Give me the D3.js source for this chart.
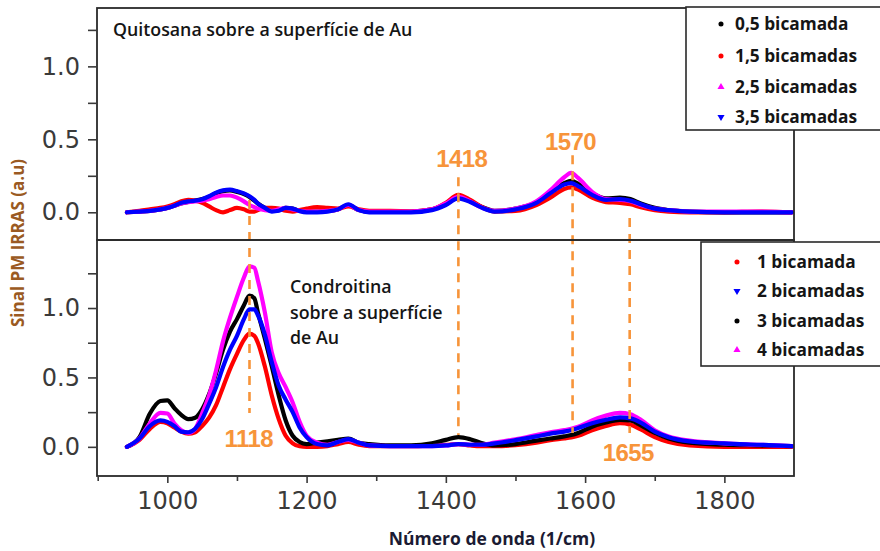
<!DOCTYPE html>
<html><head><meta charset="utf-8">
<script src="https://cdn.jsdelivr.net/npm/d3@7"></script>
<style>body{margin:0;background:#fff}svg{display:block}</style>
</head><body><svg id="c" width="880" height="551"></svg>
<script>
// ---- data ----
const wavenumbers = [942,960,975,990,1000,1010,1020,1030,1040,1050,1060,1070,1080,1090,1100,1110,1118,1125,1130,1140,1150,1160,1170,1180,1190,1200,1215,1230,1245,1260,1275,1290,1320,1350,1380,1400,1418,1435,1450,1470,1500,1530,1550,1570,1580,1590,1610,1630,1650,1665,1680,1700,1720,1750,1800,1850,1897];

// Quitosana (top panel)
const quit05 = [0,0.005,0.01,0.02,0.03,0.045,0.06,0.07,0.08,0.09, 0.105,0.13,0.145,0.15,0.14,0.125,0.105,0.08,0.06,0.03, 0.01,0.015,0.03,0.025,0.01,0.005,0.005,0.01,0.02,0.05, 0.015,0.005,0.005,0.005,0.02,0.055,0.1,0.075,0.04,0.01, 0.025,0.07,0.14,0.2,0.215,0.195,0.13,0.095,0.1,0.09, 0.06,0.03,0.015,0.005,0,0,0];
const quit15 = [0,0.01,0.02,0.03,0.04,0.055,0.075,0.085,0.08,0.065, 0.04,0.015,0,0.015,0.03,0.02,0.005,0.005,0.015,0.03, 0.03,0.025,0.01,0.005,0.015,0.025,0.035,0.03,0.025,0.04, 0.02,0.01,0.01,0.005,0.02,0.065,0.12,0.085,0.04,0.005, 0.01,0.05,0.1,0.16,0.17,0.155,0.1,0.07,0.065,0.055, 0.035,0.015,0.005,0,0,0.005,0];
const quit25 = [0,0.005,0.01,0.02,0.03,0.045,0.06,0.07,0.075,0.08, 0.09,0.105,0.115,0.115,0.1,0.075,0.05,0.035,0.025,0.015, 0.01,0.02,0.03,0.02,0.01,0.005,0.005,0.01,0.02,0.05, 0.015,0.005,0.005,0.005,0.02,0.06,0.105,0.075,0.035,0.01, 0.025,0.075,0.15,0.24,0.27,0.235,0.14,0.09,0.085,0.075, 0.05,0.025,0.015,0.005,0.005,0.005,0];
const quit35 = [0,0.005,0.01,0.02,0.03,0.045,0.065,0.075,0.08,0.09, 0.11,0.135,0.15,0.155,0.145,0.13,0.11,0.085,0.06,0.03, 0.005,0.01,0.03,0.025,0.008,0,0,0.005,0.02,0.055, 0.015,0,0,0,0.015,0.05,0.095,0.07,0.035,0.005, 0.02,0.065,0.13,0.19,0.2,0.18,0.12,0.085,0.09,0.08, 0.055,0.025,0.015,0.005,0,0,0];

// Condroitina (bottom panel)
const cond1 = [0,0.05,0.13,0.18,0.17,0.14,0.11,0.095,0.105,0.15, 0.21,0.3,0.43,0.56,0.67,0.77,0.815,0.8,0.75,0.58, 0.37,0.2,0.08,0.025,0.005,0,0,0.005,0.02,0.035, 0.015,0.005,0.005,0.005,0.01,0.015,0.02,0.01,0.005,0.005, 0.012,0.03,0.048,0.06,0.067,0.08,0.12,0.15,0.17,0.16, 0.125,0.07,0.035,0.01,0,0,0];
const cond2 = [0,0.06,0.15,0.19,0.18,0.15,0.11,0.105,0.13,0.2, 0.31,0.43,0.575,0.7,0.8,0.92,0.99,0.99,0.95,0.81, 0.61,0.44,0.34,0.25,0.14,0.07,0.02,0.01,0.035,0.055, 0.03,0.01,0.005,0.005,0.005,0.01,0.02,0.015,0.015,0.025, 0.048,0.075,0.095,0.11,0.12,0.135,0.17,0.195,0.213,0.205, 0.175,0.11,0.07,0.04,0.025,0.015,0.005];
const cond3 = [0,0.07,0.24,0.33,0.335,0.28,0.23,0.2,0.21,0.27, 0.38,0.53,0.7,0.83,0.92,1.02,1.09,1.07,0.97,0.78, 0.58,0.37,0.19,0.08,0.035,0.02,0.03,0.04,0.05,0.06, 0.03,0.02,0.01,0.01,0.025,0.05,0.07,0.055,0.03,0.01, 0.02,0.045,0.06,0.075,0.085,0.1,0.145,0.175,0.195,0.19, 0.155,0.1,0.06,0.03,0.015,0.01,0.005];
const cond4 = [0,0.06,0.17,0.245,0.24,0.17,0.12,0.1,0.13,0.24, 0.37,0.55,0.76,0.93,1.08,1.22,1.3,1.29,1.2,0.97, 0.68,0.53,0.43,0.32,0.18,0.08,0.03,0.015,0.035,0.05, 0.03,0.01,0.005,0.005,0.005,0.01,0.02,0.015,0.015,0.03, 0.055,0.085,0.105,0.12,0.13,0.145,0.19,0.225,0.245,0.235, 0.195,0.12,0.075,0.045,0.025,0.015,0.005];

const topLabels = ["0,5 bicamada","1,5 bicamadas","2,5 bicamadas","3,5 bicamadas"];
const botLabels = ["1 bicamada","2 bicamadas","3 bicamadas","4 bicamadas"];
const xTicks = [1000,1200,1400,1600,1800];
const xMinor = [900,1100,1300,1500,1700];
const yTicks = [0,0.5,1.0];
const yMinor = [0.25,0.75,1.25];
// marker lines: [x position, top value (top panel), bottom value (bottom panel)]
const peakLines = [[1118,0.084,0.243],[1418,0.24,0.085],[1582,0.39,0.1],[1664,-0.04,0.1]];
// peak labels: [text, x, panel, y value]
const peakLabels = [["1418",1423,"top",0.31],["1570",1579,"top",0.428],["1118",1117,"bot",0.0],["1655",1662,"bot",-0.1]];

// ---- drawing ----
const svg = d3.select("#c");
const x = d3.scaleLinear().domain([899,1900]).range([97,794]);
const yTop = d3.scaleLinear().domain([-0.19,1.40]).range([240,8]);
const yBot = d3.scaleLinear().domain([-0.21,1.49]).range([476,240]);
const ORANGE = "#f7943a";
const TXT = "Open Sans, sans-serif";

const defs = svg.append("defs");
defs.append("clipPath").attr("id","clipTop").append("rect").attr("x",97).attr("y",8).attr("width",697).attr("height",232);
defs.append("clipPath").attr("id","clipBot").append("rect").attr("x",97).attr("y",240).attr("width",697).attr("height",236);

const topSeries = [
  {vals:quit05,color:"#000000",sym:d3.symbolCircle,rot:0,label:topLabels[0]},
  {vals:quit15,color:"#ff0000",sym:d3.symbolCircle,rot:0,label:topLabels[1]},
  {vals:quit25,color:"#ff00ff",sym:d3.symbolTriangle,rot:0,label:topLabels[2]},
  {vals:quit35,color:"#0000ff",sym:d3.symbolTriangle,rot:180,label:topLabels[3]}
];
const botSeries = [
  {vals:cond1,color:"#ff0000",sym:d3.symbolCircle,rot:0,label:botLabels[0]},
  {vals:cond2,color:"#0000ff",sym:d3.symbolTriangle,rot:180,label:botLabels[1]},
  {vals:cond3,color:"#000000",sym:d3.symbolCircle,rot:0,label:botLabels[2]},
  {vals:cond4,color:"#ff00ff",sym:d3.symbolTriangle,rot:0,label:botLabels[3]}
];

function drawCurves(series, y, clip, order){
  const g = svg.append("g").attr("clip-path","url(#"+clip+")");
  const line = d3.line().x((d,i)=>x(wavenumbers[i])).y(d=>y(d)).curve(d3.curveMonotoneX);
  order.forEach(k=>{
    const s = series[k];
    g.append("path").attr("d",line(s.vals)).attr("fill","none")
      .attr("stroke",s.color).attr("stroke-width",4.2).attr("stroke-linejoin","round").attr("stroke-linecap","round");
  });
}
drawCurves(topSeries, yTop, "clipTop", [0,1,2,3]);
drawCurves(botSeries, yBot, "clipBot", [0,2,3,1]);

// dashed peak lines
peakLines.forEach(p=>{
  svg.append("line").attr("x1",x(p[0])).attr("x2",x(p[0]))
    .attr("y1",yTop(p[1])).attr("y2",yBot(p[2]))
    .attr("stroke",ORANGE).attr("stroke-width",2.6).attr("stroke-dasharray","9,7");
});
peakLabels.forEach(p=>{
  const yy = p[2]==="top" ? yTop(p[3]) : yBot(p[3]);
  svg.append("text").attr("x",x(p[1])).attr("y",yy).attr("text-anchor","middle")
    .attr("font-family","Liberation Sans, Arial, sans-serif").attr("font-weight","bold")
    .attr("font-size",24).attr("letter-spacing","-0.6").attr("fill",ORANGE).text(p[0]);
});

// frames
[[8,240],[240,476]].forEach(r=>{
  svg.append("rect").attr("x",97).attr("y",r[0]).attr("width",697).attr("height",r[1]-r[0])
    .attr("fill","none").attr("stroke","#2a2a2a").attr("stroke-width",1.8);
});

// axes
function styleAxis(g){
  g.select(".domain").remove();
  g.selectAll(".tick line").attr("stroke","#3a3a3a").attr("stroke-width",1.6);
  g.selectAll(".tick text").attr("fill","#3a3a3a").attr("font-family","DejaVu Sans, sans-serif").attr("font-size",24);
}
[yTop,yBot].forEach(y=>{
  svg.append("g").attr("transform","translate(97,0)")
    .call(d3.axisLeft(y).tickValues(yTicks).tickFormat(d3.format(".1f")).tickSize(9).tickPadding(8)).call(styleAxis);
  svg.append("g").attr("transform","translate(97,0)")
    .call(d3.axisLeft(y).tickValues(yMinor).tickFormat("").tickSize(9)).call(styleAxis);
});
svg.append("g").attr("transform","translate(0,476)")
  .call(d3.axisBottom(x).tickValues(xTicks).tickFormat(d3.format("d")).tickSize(7).tickPadding(9)).call(styleAxis);
svg.append("g").attr("transform","translate(0,476)")
  .call(d3.axisBottom(x).tickValues(xMinor).tickFormat("").tickSize(5)).call(styleAxis);

// axis titles
svg.append("text").attr("x",492).attr("y",545).attr("text-anchor","middle")
  .attr("font-family",TXT).attr("font-weight","bold").attr("font-size",17.5)
  .attr("fill","#1b1b33").text("Número de onda (1/cm)");
svg.append("text").attr("transform","translate(24,243) rotate(-90)").attr("text-anchor","middle")
  .attr("font-family",TXT).attr("font-weight","bold").attr("font-size",17)
  .attr("fill","#9a5a22").text("Sinal PM IRRAS (a.u)");

// panel annotations
svg.append("text").attr("x",113).attr("y",36)
  .attr("font-family",TXT).attr("font-weight",600).attr("font-size",17.8)
  .attr("fill","#151515").text("Quitosana sobre a superfície de Au");
const cText = svg.append("text").attr("font-family",TXT).attr("font-weight",600)
  .attr("font-size",17.8).attr("fill","#151515");
["Condroitina","sobre a superfície","de Au"].forEach((t,i)=>{
  cText.append("tspan").attr("x",290).attr("y",293+i*25.5).text(t);
});

// legends
function legend(series, bx, by, bh, mx, tx, rows){
  svg.append("rect").attr("x",bx).attr("y",by).attr("width",880-bx+10).attr("height",bh)
    .attr("fill","#fff").attr("stroke","#2a2a2a").attr("stroke-width",1.6);
  series.forEach((s,i)=>{
    svg.append("path").attr("d",d3.symbol().type(s.sym).size(s.sym===d3.symbolCircle?20:22)())
      .attr("transform",`translate(${mx},${rows[i]}) rotate(${s.rot})`).attr("fill",s.color);
    svg.append("text").attr("x",tx).attr("y",rows[i]).attr("dy","0.36em")
      .attr("font-family",TXT).attr("font-weight","bold").attr("font-size",17.3)
      .attr("fill","#151515").text(s.label);
  });
}
legend(topSeries, 686, 7, 123, 721, 735, [24,56,87,117]);
legend(botSeries, 701, 242, 124, 737, 757, [262,291,321,350]);
</script></body></html>
